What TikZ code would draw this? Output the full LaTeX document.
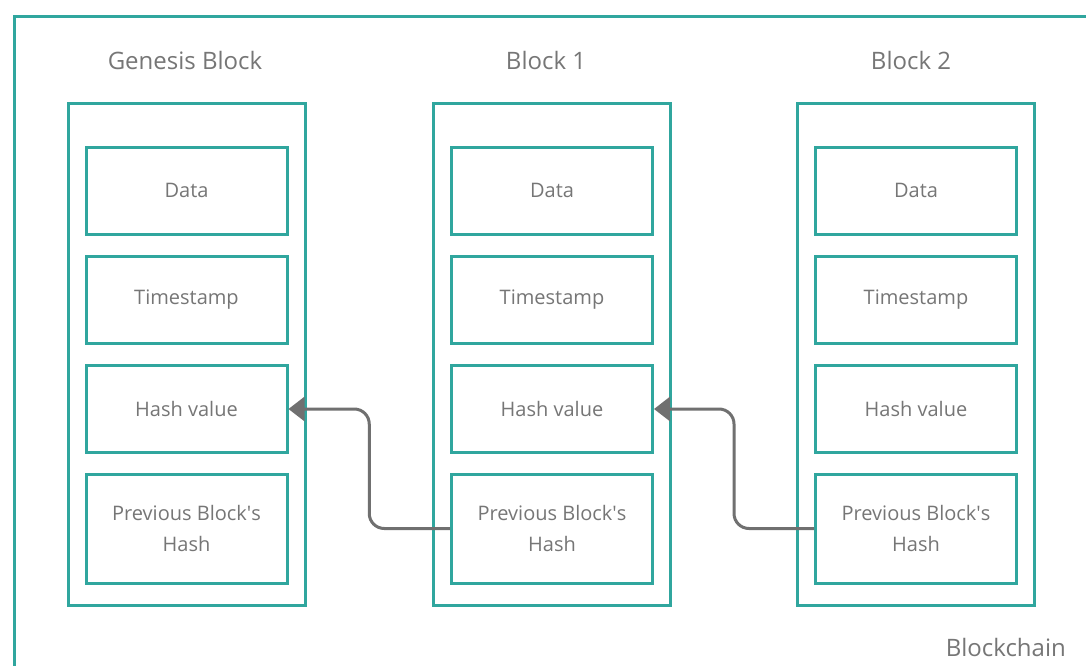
\documentclass[tikz,border=0pt]{standalone}
\usepackage{fontspec}
\setmainfont{Open Sans}
\usetikzlibrary{arrows.meta,calc}
\definecolor{teal1}{RGB}{48,166,158}
\definecolor{txtgray}{RGB}{118,118,118}
\definecolor{arrgray}{RGB}{112,112,112}
\tikzset{
  frame/.style={draw=teal1,line width=3pt},
  blockbox/.style={draw=teal1,line width=3pt,minimum width=237pt,minimum height=501pt,inner sep=0pt},
  fieldbox/.style={draw=teal1,line width=3pt,minimum width=201pt,minimum height=87pt,inner sep=0pt,
    align=center,text=txtgray,font=\fontsize{20}{31}\selectfont},
  title/.style={text=txtgray,font=\fontsize{24}{28}\selectfont,inner sep=0pt},
  link/.style={draw=arrgray,line width=3pt,rounded corners=15pt,-{Triangle[length=16pt,width=24pt]}}
}
\begin{document}
\begin{tikzpicture}[x=1pt,y=-1pt]
\useasboundingbox (0,0) rectangle (1086,666);
\clip (0,0) rectangle (1086,666);
\fill[white] (0,0) rectangle (1086,666);
\draw[frame] (14,680) -- (14,17) -- (1100,17);
% blocks
\foreach \n/\cx/\tx/\t in {g/186.5/185/Genesis Block,b1/552/546/Block 1,b2/916/911/Block 2}{
  \node[blockbox] (\n) at (\cx,354.5) {};
  \node[title] (\n-title) at (\tx,61) {\t};
  \node[fieldbox] (\n-data) at (\cx,190.5) {Data};
  \node[fieldbox] (\n-ts) at (\cx,299.5) {Timestamp};
  \node[fieldbox] (\n-hash) at (\cx,409) {Hash value};
  \node[fieldbox,minimum height=109pt] (\n-prev) at (\cx,528.5) {Previous Block\textquotesingle s\\Hash};
}
\node[title,anchor=east] (chain) at (1066,647) {Blockchain};
% links
\draw[link] (b1-prev.west) -| ($(g-hash.east)!.5!(b1-prev.west)$) |- (g-hash.east);
\draw[link] (b2-prev.west) -| ($(b1-hash.east)!.5!(b2-prev.west)$) |- (b1-hash.east);
\end{tikzpicture}
\end{document}
